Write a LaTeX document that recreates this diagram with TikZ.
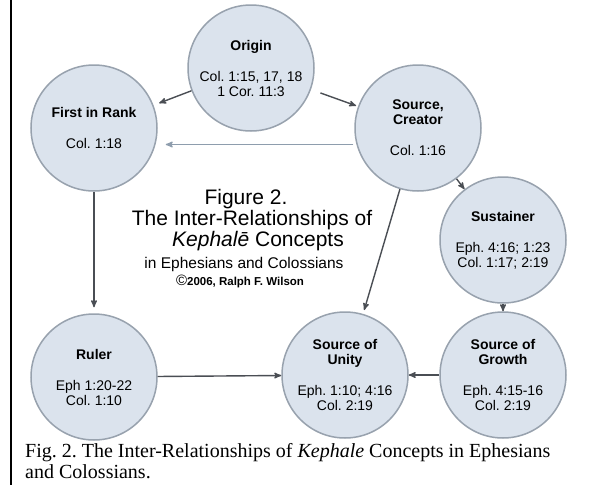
\documentclass[tikz,border=0pt]{standalone}
\usepackage{fontspec}
\setmainfont{Liberation Serif}
\setsansfont{Liberation Sans}
\usetikzlibrary{arrows}
\frenchspacing

\definecolor{bubble}{RGB}{219,227,237}
\definecolor{rim}{RGB}{152,162,174}
\definecolor{linkgray}{RGB}{74,78,84}
\definecolor{faintgray}{RGB}{142,157,173}

\begin{document}
\begin{tikzpicture}[
    x = 1pt,
    y = -1pt,
    >=stealth',
    concept/.style = {
      draw = rim,
      line width = 1.5pt,
      fill = bubble,
      circle,
      inner sep = 0pt,
      minimum size = 126pt,
      align = center,
      font = \sffamily\fontsize{14}{15}\selectfont
    },
    link/.style = {
      ->,
      draw = linkgray,
      line width = 1.4pt
    },
    heading/.style = {
      anchor = base,
      font = \sffamily\fontsize{21}{22}\selectfont
    }
  ]
  \fill[white] (0,0) rectangle (590,485);
  \useasboundingbox (0,0) rectangle (590,485);

  \draw[line width=2pt] (11,0) -- (11,485);

  \node[concept] (origin) at (251,68) {\textbf{Origin}\\[16pt]Col. 1:15, 17, 18\\1 Cor. 11:3};
  \node[concept] (rank) at (94,128) {\textbf{First in Rank}\\[16pt]Col. 1:18};
  \node[concept] (creator) at (418,128) {\textbf{Source,}\\\textbf{Creator}\\[16pt]Col. 1:16};
  \node[concept] (sustainer) at (503,240) {\textbf{Sustainer}\\[16pt]Eph. 4:16; 1:23\\Col. 1:17; 2:19};
  \node[concept] (growth) at (503,375) {\textbf{Source of}\\\textbf{Growth}\\[16pt]Eph. 4:15-16\\Col. 2:19};
  \node[concept] (unity) at (345,375) {\textbf{Source of}\\\textbf{Unity}\\[16pt]Eph. 1:10; 4:16\\Col. 2:19};
  \node[concept] (ruler) at (94,377) {\textbf{Ruler}\\[16pt]Eph 1:20-22\\Col. 1:10};

  \draw[link, shorten >=6pt] (origin) -- (rank);
  \draw[link, shorten <=10pt, shorten >=2pt] (origin) -- (creator);
  \draw[link, draw=faintgray, shorten <=3pt, shorten >=8pt] (creator.195) -- (creator.195 -| rank.east);
  \draw[link] (creator) -- (sustainer);
  \draw[link, shorten >=4pt] (creator) -- (unity);
  \draw[link, shorten >=6pt] (rank) -- (ruler);
  \draw[link] (ruler) -- (unity);
  \draw[link] (sustainer) -- (growth);
  \draw[link] (growth) -- (unity);

  % title block
  \node[heading] (figlabel) at (246,204) {Figure 2.};
  \node[heading] (titleone) at (252,225) {The Inter-Relationships of};
  \node[heading] (titletwo) at (258,246) {\textit{Kephalē} Concepts};
  \node[heading, font=\sffamily\fontsize{15.5}{16}\selectfont] (subtitle) at (244,268) {in Ephesians and Colossians};
  \node[heading, font=\sffamily\bfseries\fontsize{11.5}{12}\selectfont] (credit) at (240,285) {{\fontsize{15}{15}\selectfont\mdseries ©}2006, Ralph F. Wilson};

  % caption
  \node[anchor=base west, inner sep=0pt, font=\fontsize{20}{21}\selectfont] (caption) at (25,457) {Fig. 2. The Inter-Relationships of \textit{Kephale} Concepts in Ephesians};
  \node[anchor=base west, inner sep=0pt, font=\fontsize{20}{21}\selectfont] (captiontail) at (25,478) {and Colossians.};
\end{tikzpicture}
\end{document}
